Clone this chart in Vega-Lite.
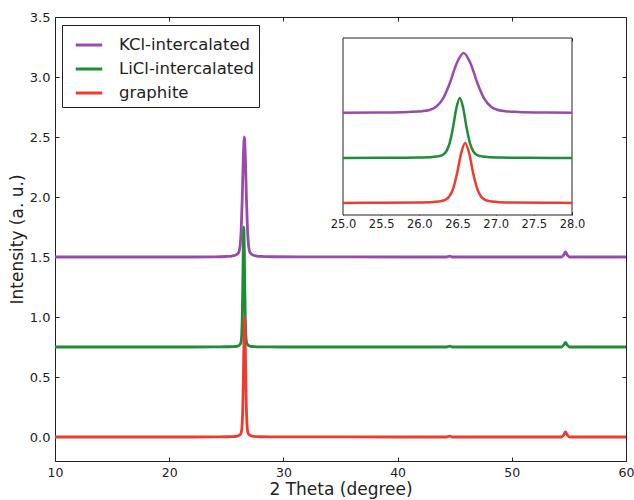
{
  "$schema": "https://vega.github.io/schema/vega-lite/v6.json",
  "width": 571,
  "height": 444,
  "autosize": {"type": "none"},
  "padding": {"left": 55, "top": 17, "right": 8, "bottom": 39},
  "background": "white",
  "config": {
    "font": "DejaVu Sans",
    "view": {"stroke": "#222", "strokeWidth": 1},
    "axis": {"grid": false, "domain": false, "labelFlush": false, "labelColor": "#222", "tickColor": "#222", "titleColor": "#222", "labelFont": "DejaVu Sans", "titleFont": "DejaVu Sans", "titleFontWeight": "normal"}
  },
  "datasets": {
    "xrd": [
      {"sample": "KCl-intercalated", "theta": 10, "intensity": 1.5},
      {"sample": "KCl-intercalated", "theta": 15, "intensity": 1.5},
      {"sample": "KCl-intercalated", "theta": 20, "intensity": 1.5},
      {"sample": "KCl-intercalated", "theta": 24, "intensity": 1.501},
      {"sample": "KCl-intercalated", "theta": 25, "intensity": 1.504},
      {"sample": "KCl-intercalated", "theta": 25.5, "intensity": 1.508},
      {"sample": "KCl-intercalated", "theta": 25.86, "intensity": 1.518},
      {"sample": "KCl-intercalated", "theta": 26.04, "intensity": 1.531},
      {"sample": "KCl-intercalated", "theta": 26.13, "intensity": 1.551},
      {"sample": "KCl-intercalated", "theta": 26.22, "intensity": 1.604},
      {"sample": "KCl-intercalated", "theta": 26.31, "intensity": 1.739},
      {"sample": "KCl-intercalated", "theta": 26.4, "intensity": 2.0},
      {"sample": "KCl-intercalated", "theta": 26.49, "intensity": 2.329},
      {"sample": "KCl-intercalated", "theta": 26.58, "intensity": 2.5},
      {"sample": "KCl-intercalated", "theta": 26.67, "intensity": 2.329},
      {"sample": "KCl-intercalated", "theta": 26.76, "intensity": 2.0},
      {"sample": "KCl-intercalated", "theta": 26.85, "intensity": 1.739},
      {"sample": "KCl-intercalated", "theta": 26.94, "intensity": 1.604},
      {"sample": "KCl-intercalated", "theta": 27.03, "intensity": 1.551},
      {"sample": "KCl-intercalated", "theta": 27.12, "intensity": 1.531},
      {"sample": "KCl-intercalated", "theta": 27.3, "intensity": 1.518},
      {"sample": "KCl-intercalated", "theta": 27.66, "intensity": 1.508},
      {"sample": "KCl-intercalated", "theta": 28, "intensity": 1.505},
      {"sample": "KCl-intercalated", "theta": 29, "intensity": 1.502},
      {"sample": "KCl-intercalated", "theta": 32, "intensity": 1.501},
      {"sample": "KCl-intercalated", "theta": 40, "intensity": 1.5},
      {"sample": "KCl-intercalated", "theta": 44.3, "intensity": 1.5},
      {"sample": "KCl-intercalated", "theta": 44.55, "intensity": 1.508},
      {"sample": "KCl-intercalated", "theta": 44.8, "intensity": 1.5},
      {"sample": "KCl-intercalated", "theta": 50, "intensity": 1.5},
      {"sample": "KCl-intercalated", "theta": 54.35, "intensity": 1.5},
      {"sample": "KCl-intercalated", "theta": 54.55, "intensity": 1.518},
      {"sample": "KCl-intercalated", "theta": 54.7, "intensity": 1.542},
      {"sample": "KCl-intercalated", "theta": 54.85, "intensity": 1.518},
      {"sample": "KCl-intercalated", "theta": 55.05, "intensity": 1.5},
      {"sample": "KCl-intercalated", "theta": 60, "intensity": 1.5},

      {"sample": "LiCl-intercalated", "theta": 10, "intensity": 0.75},
      {"sample": "LiCl-intercalated", "theta": 15, "intensity": 0.75},
      {"sample": "LiCl-intercalated", "theta": 20, "intensity": 0.75},
      {"sample": "LiCl-intercalated", "theta": 24, "intensity": 0.751},
      {"sample": "LiCl-intercalated", "theta": 25, "intensity": 0.752},
      {"sample": "LiCl-intercalated", "theta": 25.63, "intensity": 0.753},
      {"sample": "LiCl-intercalated", "theta": 25.99, "intensity": 0.758},
      {"sample": "LiCl-intercalated", "theta": 26.17, "intensity": 0.768},
      {"sample": "LiCl-intercalated", "theta": 26.26, "intensity": 0.781},
      {"sample": "LiCl-intercalated", "theta": 26.305, "intensity": 0.801},
      {"sample": "LiCl-intercalated", "theta": 26.35, "intensity": 0.854},
      {"sample": "LiCl-intercalated", "theta": 26.395, "intensity": 0.989},
      {"sample": "LiCl-intercalated", "theta": 26.44, "intensity": 1.25},
      {"sample": "LiCl-intercalated", "theta": 26.485, "intensity": 1.579},
      {"sample": "LiCl-intercalated", "theta": 26.53, "intensity": 1.75},
      {"sample": "LiCl-intercalated", "theta": 26.575, "intensity": 1.579},
      {"sample": "LiCl-intercalated", "theta": 26.62, "intensity": 1.25},
      {"sample": "LiCl-intercalated", "theta": 26.665, "intensity": 0.989},
      {"sample": "LiCl-intercalated", "theta": 26.71, "intensity": 0.854},
      {"sample": "LiCl-intercalated", "theta": 26.755, "intensity": 0.801},
      {"sample": "LiCl-intercalated", "theta": 26.8, "intensity": 0.781},
      {"sample": "LiCl-intercalated", "theta": 26.89, "intensity": 0.768},
      {"sample": "LiCl-intercalated", "theta": 27.07, "intensity": 0.758},
      {"sample": "LiCl-intercalated", "theta": 27.43, "intensity": 0.753},
      {"sample": "LiCl-intercalated", "theta": 28, "intensity": 0.751},
      {"sample": "LiCl-intercalated", "theta": 30, "intensity": 0.75},
      {"sample": "LiCl-intercalated", "theta": 40, "intensity": 0.75},
      {"sample": "LiCl-intercalated", "theta": 44.3, "intensity": 0.75},
      {"sample": "LiCl-intercalated", "theta": 44.55, "intensity": 0.757},
      {"sample": "LiCl-intercalated", "theta": 44.8, "intensity": 0.75},
      {"sample": "LiCl-intercalated", "theta": 50, "intensity": 0.75},
      {"sample": "LiCl-intercalated", "theta": 54.35, "intensity": 0.75},
      {"sample": "LiCl-intercalated", "theta": 54.55, "intensity": 0.767},
      {"sample": "LiCl-intercalated", "theta": 54.7, "intensity": 0.789},
      {"sample": "LiCl-intercalated", "theta": 54.85, "intensity": 0.767},
      {"sample": "LiCl-intercalated", "theta": 55.05, "intensity": 0.75},
      {"sample": "LiCl-intercalated", "theta": 60, "intensity": 0.75},

      {"sample": "graphite", "theta": 10, "intensity": 0},
      {"sample": "graphite", "theta": 15, "intensity": 0},
      {"sample": "graphite", "theta": 20, "intensity": 0},
      {"sample": "graphite", "theta": 24, "intensity": 0.001},
      {"sample": "graphite", "theta": 25, "intensity": 0.002},
      {"sample": "graphite", "theta": 25.55, "intensity": 0.003},
      {"sample": "graphite", "theta": 25.97, "intensity": 0.008},
      {"sample": "graphite", "theta": 26.18, "intensity": 0.018},
      {"sample": "graphite", "theta": 26.285, "intensity": 0.031},
      {"sample": "graphite", "theta": 26.338, "intensity": 0.051},
      {"sample": "graphite", "theta": 26.39, "intensity": 0.104},
      {"sample": "graphite", "theta": 26.443, "intensity": 0.239},
      {"sample": "graphite", "theta": 26.495, "intensity": 0.5},
      {"sample": "graphite", "theta": 26.548, "intensity": 0.829},
      {"sample": "graphite", "theta": 26.6, "intensity": 1.0},
      {"sample": "graphite", "theta": 26.653, "intensity": 0.829},
      {"sample": "graphite", "theta": 26.705, "intensity": 0.5},
      {"sample": "graphite", "theta": 26.758, "intensity": 0.239},
      {"sample": "graphite", "theta": 26.81, "intensity": 0.104},
      {"sample": "graphite", "theta": 26.863, "intensity": 0.051},
      {"sample": "graphite", "theta": 26.915, "intensity": 0.031},
      {"sample": "graphite", "theta": 27.02, "intensity": 0.018},
      {"sample": "graphite", "theta": 27.23, "intensity": 0.008},
      {"sample": "graphite", "theta": 27.65, "intensity": 0.003},
      {"sample": "graphite", "theta": 28, "intensity": 0.002},
      {"sample": "graphite", "theta": 30, "intensity": 0.001},
      {"sample": "graphite", "theta": 40, "intensity": 0},
      {"sample": "graphite", "theta": 44.3, "intensity": 0},
      {"sample": "graphite", "theta": 44.55, "intensity": 0.008},
      {"sample": "graphite", "theta": 44.8, "intensity": 0},
      {"sample": "graphite", "theta": 50, "intensity": 0},
      {"sample": "graphite", "theta": 54.35, "intensity": 0},
      {"sample": "graphite", "theta": 54.55, "intensity": 0.018},
      {"sample": "graphite", "theta": 54.7, "intensity": 0.042},
      {"sample": "graphite", "theta": 54.85, "intensity": 0.018},
      {"sample": "graphite", "theta": 55.05, "intensity": 0},
      {"sample": "graphite", "theta": 60, "intensity": 0}
    ],
    "frame": [{"x1": 25, "x2": 28, "y1": -0.2, "y2": 2.75}]
  },
  "layer": [
    {
      "data": {"name": "xrd"},
      "layer": [
        {
          "mark": {"type": "line", "strokeWidth": 2.8, "interpolate": "monotone"},
          "encoding": {
            "x": {"field": "theta", "type": "quantitative", "scale": {"domain": [10, 60], "nice": false, "zero": false},
              "axis": {"orient": "bottom", "values": [10, 20, 30, 40, 50, 60], "format": "d", "labelFontSize": 12.5, "tickSize": -4, "labelPadding": 9, "title": "2 Theta (degree)", "titleFontSize": 17, "titlePadding": 3}},
            "y": {"field": "intensity", "type": "quantitative", "scale": {"domain": [-0.2, 3.5], "nice": false, "zero": false},
              "axis": {"orient": "left", "values": [0, 0.5, 1, 1.5, 2, 2.5, 3, 3.5], "format": ".1f", "labelFontSize": 13, "tickSize": -4, "labelPadding": 9, "title": "Intensity (a. u.)", "titleFontSize": 17, "titlePadding": 3}},
            "color": {"field": "sample", "type": "nominal",
              "scale": {"domain": ["KCl-intercalated", "LiCl-intercalated", "graphite"], "range": ["#9a4aad", "#1f8c36", "#ef3a2e"]},
              "legend": {"orient": "none", "legendX": 7, "legendY": 8, "direction": "vertical", "title": null, "labelFontSize": 16.5, "labelColor": "#222", "symbolType": "stroke", "symbolStrokeWidth": 3, "symbolSize": 700, "symbolOffset": 7, "labelOffset": 15, "padding": 5, "strokeColor": "#222", "fillColor": "white", "rowPadding": 0, "labelLimit": 300}}
          }
        },
        {
          "mark": {"type": "point", "opacity": 0},
          "encoding": {
            "x": {"field": "theta", "type": "quantitative", "scale": {"domain": [10, 60], "nice": false, "zero": false},
              "axis": {"orient": "top", "values": [10, 20, 30, 40, 50, 60], "labels": false, "tickSize": -4, "title": null}},
            "y": {"field": "intensity", "type": "quantitative", "scale": {"domain": [-0.2, 3.5], "nice": false, "zero": false},
              "axis": {"orient": "right", "values": [0, 0.5, 1, 1.5, 2, 2.5, 3, 3.5], "labels": false, "tickSize": -4, "title": null}}
          }
        }
      ]
    },
    {
      "data": {"name": "xrd"},
      "transform": [{"filter": "datum.theta >= 25 && datum.theta <= 28"}],
      "layer": [
        {
          "data": {"name": "frame"},
          "mark": {"type": "rect", "fill": "white", "stroke": "#222", "strokeWidth": 1},
          "encoding": {
            "x": {"field": "x1", "type": "quantitative", "scale": {"domain": [25, 28], "range": [288, 517], "nice": false, "zero": false}, "axis": null},
            "x2": {"field": "x2"},
            "y": {"field": "y1", "type": "quantitative", "scale": {"domain": [-0.2, 2.75], "range": [198, 21], "nice": false, "zero": false}, "axis": null},
            "y2": {"field": "y2"}
          }
        },
        {
          "mark": {"type": "line", "strokeWidth": 2.5, "interpolate": "monotone"},
          "encoding": {
            "x": {"field": "theta", "type": "quantitative", "scale": {"domain": [25, 28], "range": [288, 517], "nice": false, "zero": false},
              "axis": {"orient": "bottom", "offset": -246, "values": [25, 25.5, 26, 26.5, 27, 27.5, 28], "format": ".1f", "labelFontSize": 11.5, "tickSize": -3, "labelPadding": 6, "title": null}},
            "y": {"field": "intensity", "type": "quantitative", "scale": {"domain": [-0.2, 2.75], "range": [198, 21], "nice": false, "zero": false}, "axis": null},
            "color": {"field": "sample", "type": "nominal",
              "scale": {"domain": ["KCl-intercalated", "LiCl-intercalated", "graphite"], "range": ["#9a4aad", "#1f8c36", "#ef3a2e"]},
              "legend": {"orient": "none", "legendX": 7, "legendY": 8, "direction": "vertical", "title": null, "labelFontSize": 16.5, "labelColor": "#222", "symbolType": "stroke", "symbolStrokeWidth": 3, "symbolSize": 700, "symbolOffset": 7, "labelOffset": 15, "padding": 5, "strokeColor": "#222", "fillColor": "white", "rowPadding": 0, "labelLimit": 300}}
          }
        },
        {
          "mark": {"type": "point", "opacity": 0},
          "encoding": {
            "x": {"field": "theta", "type": "quantitative", "scale": {"domain": [25, 28], "range": [288, 517], "nice": false, "zero": false},
              "axis": {"orient": "top", "offset": -21, "values": [25, 25.5, 26, 26.5, 27, 27.5, 28], "labels": false, "tickSize": -3, "title": null}},
            "y": {"field": "intensity", "type": "quantitative", "scale": {"domain": [-0.2, 2.75], "range": [198, 21], "nice": false, "zero": false}, "axis": null}
          }
        }
      ]
    }
  ],
  "resolve": {"scale": {"x": "independent", "y": "independent"}}
}
